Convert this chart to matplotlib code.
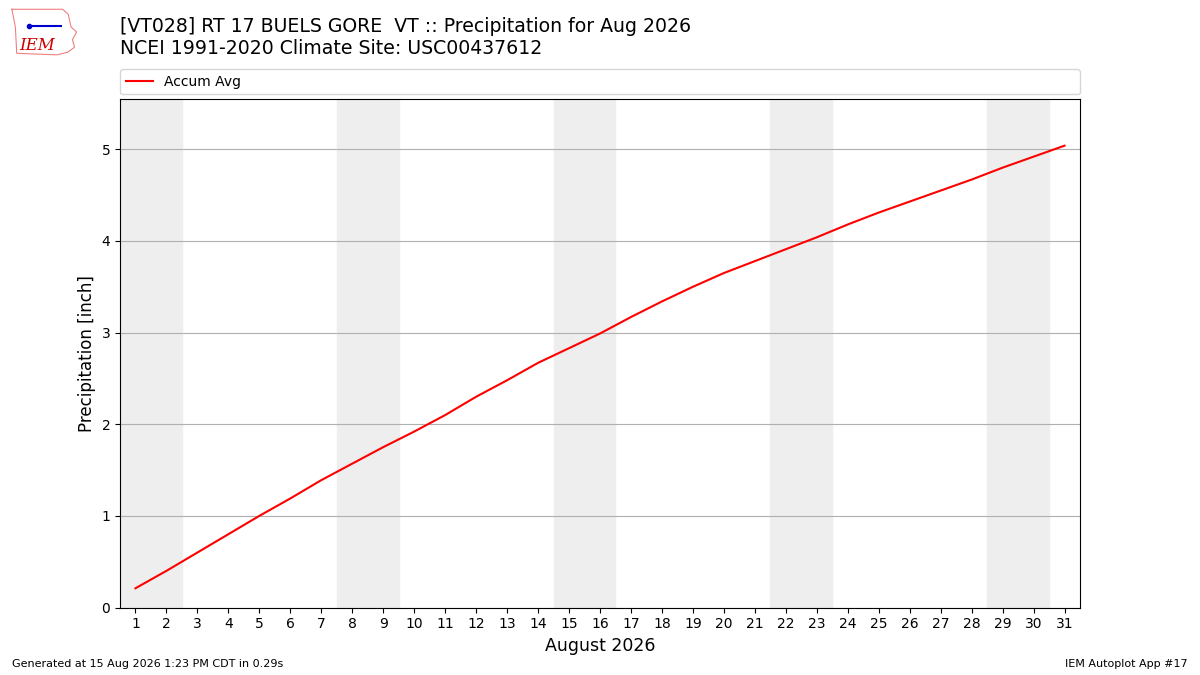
import matplotlib
matplotlib.use("Agg")
import matplotlib.pyplot as plt
import numpy as np

days = list(range(1, 32))
accum_avg = [0.21, 0.40, 0.60, 0.80, 1.00, 1.19, 1.39, 1.57, 1.75, 1.92,
             2.10, 2.30, 2.48, 2.67, 2.83, 2.99, 3.17, 3.34, 3.50, 3.65,
             3.78, 3.91, 4.04, 4.18, 4.31, 4.43, 4.55, 4.67, 4.80, 4.92, 5.04]
weekend_starts = [1, 8, 15, 22, 29]

fig = plt.figure(figsize=(12, 6.75), dpi=100)
ax = fig.add_axes([0.1, 0.1, 0.8, 0.7526])

# weekend shading
for d in weekend_starts:
    ax.axvspan(d - 0.5, d + 1.5, color='#eeeeee', zorder=0)

ax.plot(days, accum_avg, color='red', lw=1.5, label='Accum Avg', zorder=3)

ax.set_xlim(0.5, 31.5)
ax.set_ylim(0, max(accum_avg) * 1.1)
ax.set_xticks(days)
ax.grid(axis='y', color='#b0b0b0', lw=0.8)
ax.set_axisbelow(True)
ax.set_xlabel('August 2026', fontsize=12.5)
ax.set_ylabel('Precipitation [inch]', fontsize=12)

ax.legend(loc='lower left', bbox_to_anchor=(0, 1.01, 1, 0.05), mode='expand',
          borderaxespad=0, fontsize=10, ncol=1)

fig.text(0.1, 0.952, '[VT028] RT 17 BUELS GORE  VT :: Precipitation for Aug 2026',
         fontsize=13.6, va='baseline')
fig.text(0.1, 0.92, 'NCEI 1991-2020 Climate Site: USC00437612',
         fontsize=13.6, va='baseline')

fig.text(0.01, 0.012, 'Generated at 15 Aug 2026 1:23 PM CDT in 0.29s', fontsize=8)
fig.text(0.99, 0.012, 'IEM Autoplot App #17', fontsize=8, ha='right')

# rough IEM logo
lax = fig.add_axes([0.007, 0.915, 0.058, 0.075])
lax.set_xlim(0, 1)
lax.set_ylim(0, 1)
lax.axis('off')
ox = [0.05, 0.78, 0.86, 0.9, 0.98, 0.92, 0.95, 0.85, 0.7, 0.12, 0.1, 0.05]
oy = [0.95, 0.95, 0.85, 0.6, 0.5, 0.35, 0.2, 0.1, 0.05, 0.08, 0.6, 0.95]
lax.plot(ox, oy, color='#f08080', lw=0.8)
lax.plot([0.3, 0.75], [0.62, 0.62], color='#0000cc', lw=1.5)
lax.plot([0.3], [0.62], 'o', color='#0000cc', ms=3)
lax.text(0.15, 0.15, 'IEM', color='#cc0000', fontsize=12, family='serif', style='italic')

fig.savefig('out.png', dpi=100)
